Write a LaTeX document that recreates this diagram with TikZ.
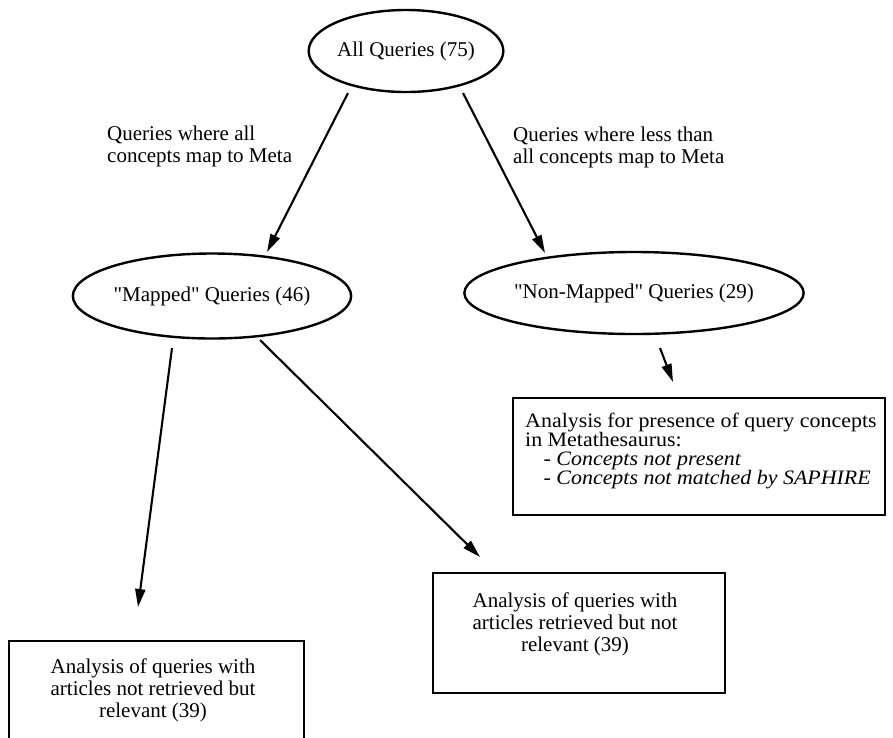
\documentclass[tikz,border=0pt]{standalone}
\usepackage{fontspec}
\setmainfont{Liberation Serif}
\newfontfamily\widefont[FakeStretch=1.07]{Liberation Serif}
\usetikzlibrary{shapes.geometric,arrows.meta}
\begin{document}
\begin{tikzpicture}[x=1pt,y=-1pt,
  every node/.style={font=\fontsize{21}{22}\selectfont},
  oval/.style={ellipse,draw,line width=2.4pt,inner sep=0pt},
  box/.style={draw,line width=2pt,inner sep=0pt},
  arr/.style={line width=2.1pt,-{Triangle[length=18pt,width=10pt]}},
  lbl/.style={align=left,anchor=west,inner sep=0pt},
  boxtext/.style={align=center,inner sep=0pt}]
\useasboundingbox (0,0) rectangle (893,737);
\clip (0,0) rectangle (893,737);
% ellipses
\node[oval,minimum width=182pt,minimum height=82pt] (all) at (406,51) {All Queries (75)};
\node[oval,minimum width=245pt,minimum height=85pt] (map) at (212,296) {\textquotedbl Mapped\textquotedbl{} Queries (46)};
\node[oval,minimum width=282pt,minimum height=82pt] (non) at (634,293) {\textquotedbl Non-Mapped\textquotedbl{} Queries (29)};
% edge labels
\node[lbl] (l1) at (107,146) {Queries where all\\concepts map to Meta};
\node[lbl] (l2) at (513,147) {Queries where less than\\all concepts map to Meta};
% boxes
\node[box,minimum width=372pt,minimum height=117pt] (nbox) at (699,456.5) {};
\node[align=left,anchor=west,inner sep=0pt,font=\widefont\fontsize{20.5}{18.7}\selectfont] (ntext) at (525,451)
  {Analysis for presence of query concepts\\in Metathesaurus:\\\hspace*{0.9em}- \textit{Concepts not present}\\\hspace*{0.9em}- \textit{Concepts not matched by SAPHIRE}};
\node[box,minimum width=292pt,minimum height=120pt] (b2) at (579,633) {};
\node[boxtext] (t2) at (575,624) {Analysis of queries with\\articles retrieved but not\\relevant (39)};
\node[box,minimum width=295pt,minimum height=110pt,anchor=north west] (b3) at (8,640) {};
\node[boxtext] (t3) at (153,690) {Analysis of queries with\\articles not retrieved but\\relevant (39)};
% arrow end points
\coordinate (a1s) at (348,93);  \coordinate (a1e) at (267,252);
\coordinate (a2s) at (463,93);  \coordinate (a2e) at (545,253);
\coordinate (a3s) at (660,348); \coordinate (a3e) at (673,382);
\coordinate (a4s) at (172,348); \coordinate (a4e) at (138,607);
\coordinate (a5s) at (260,340); \coordinate (a5e) at (480,557);
\draw[arr] (a1s) -- (a1e);
\draw[arr] (a2s) -- (a2e);
\draw[arr] (a3s) -- (a3e);
\draw[arr] (a4s) -- (a4e);
\draw[arr] (a5s) -- (a5e);
\end{tikzpicture}
\end{document}
